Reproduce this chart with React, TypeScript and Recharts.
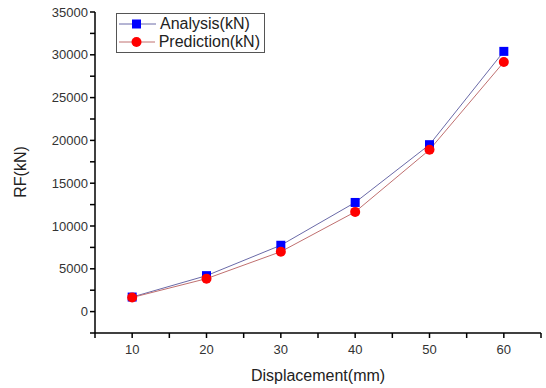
import { LineChart, Line, XAxis, YAxis } from "recharts";

const displacement = [10, 20, 30, 40, 50, 60];
const analysis = [1700, 4200, 7750, 12750, 19500, 30400];
const prediction = [1650, 3850, 7000, 11650, 18900, 29150];
const xTicks = [5, 10, 15, 20, 25, 30, 35, 40, 45, 50, 55, 60, 65];
const yTicks = [-2500, 0, 2500, 5000, 7500, 10000, 12500, 15000, 17500, 20000, 22500, 25000, 27500, 30000, 32500, 35000];

const data = displacement.map((d, i) => ({
  d,
  analysis: analysis[i],
  prediction: prediction[i],
}));

const font = "'Liberation Sans', Arial, sans-serif";

const Square = (props: any) => {
  const { cx, cy } = props;
  if (cx == null || cy == null) return null;
  return <rect x={cx - 4.5} y={cy - 4.5} width={9} height={9} fill="#0000ff" />;
};

const Dot = (props: any) => {
  const { cx, cy } = props;
  if (cx == null || cy == null) return null;
  return <circle cx={cx} cy={cy} r={5} fill="#ff0000" />;
};

const LegendBox = () => (
  <div
    style={{
      position: "absolute",
      left: 116,
      top: 13,
      border: "1px solid #555",
      background: "#fff",
      padding: "1px 4px 1px 2px",
      fontFamily: font,
      fontSize: 16,
      color: "#222",
      lineHeight: "18px",
      width: 141,
    }}
  >
    {[
      { name: "Analysis(kN)", line: "#6a6aa8", marker: <rect x={13} y={4.5} width={9} height={9} fill="#0000ff" /> },
      { name: "Prediction(kN)", line: "#c07070", marker: <circle cx={17.5} cy={9} r={5} fill="#ff0000" /> },
    ].map((it) => (
      <div key={it.name} style={{ display: "flex", alignItems: "center" }}>
        <svg width={37} height={18} style={{ marginRight: 4 }}>
          <line x1={0} y1={9} x2={37} y2={9} stroke={it.line} strokeWidth={1} />
          {it.marker}
        </svg>
        <span>{it.name}</span>
      </div>
    ))}
  </div>
);

const YLabel = () => (
  <text
    x={22}
    y={172}
    transform="rotate(-90 22 172)"
    textAnchor="middle"
    dominantBaseline="middle"
    fontFamily={font}
    fontSize={16}
    fill="#222"
  >
    RF(kN)
  </text>
);

export default function App() {
  return (
    <div style={{ position: "absolute", left: 0, top: 0, width: 546, height: 388, background: "#fff" }}>
      <LineChart
        width={546}
        height={388}
        data={data}
        margin={{ top: 12, right: 5, bottom: 0, left: 0 }}
      >
        <XAxis
          dataKey="d"
          type="number"
          domain={[5, 65]}
          ticks={xTicks}
          interval={0}
          height={55}
          stroke="#000"
          strokeWidth={1.5}
          tickSize={5}
          tick={{ fill: "#333", fontSize: 13, fontFamily: font, dy: 5 }}
          tickFormatter={(v: number) => (v % 10 === 0 && v >= 10 && v <= 60 ? String(v) : "")}
          label={{
            value: "Displacement(mm)",
            position: "insideBottom",
            offset: 7,
            fill: "#222",
            fontSize: 16,
            fontFamily: font,
          }}
        />
        <YAxis
          type="number"
          domain={[-2500, 35000]}
          ticks={yTicks}
          interval={0}
          width={95}
          stroke="#000"
          strokeWidth={1.5}
          tickSize={5}
          tick={{ fill: "#333", fontSize: 13, fontFamily: font }}
          tickFormatter={(v: number) => (v % 5000 === 0 && v >= 0 ? String(v) : "")}
          label={{ content: () => <YLabel /> }}
        />
        <Line
          dataKey="analysis"
          stroke="#6a6aa8"
          strokeWidth={1}
          dot={<Square />}
          isAnimationActive={false}
        />
        <Line
          dataKey="prediction"
          stroke="#c07070"
          strokeWidth={1}
          dot={<Dot />}
          isAnimationActive={false}
        />
      </LineChart>
      <LegendBox />
    </div>
  );
}
